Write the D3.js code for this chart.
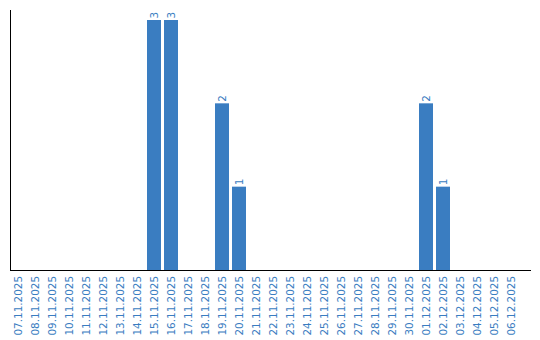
<!DOCTYPE html>
<html>
<head>
<meta charset="utf-8">
<script src="https://cdn.jsdelivr.net/npm/d3@7"></script>
<style>
    body { margin: 0; background: #fff; }
</style>
</head>
<body>
<div id="chart"></div>
<script>
// dates shown on the x axis
const dates = ["07.11.2025","08.11.2025","09.11.2025","10.11.2025","11.11.2025","12.11.2025",
    "13.11.2025","14.11.2025","15.11.2025","16.11.2025","17.11.2025","18.11.2025","19.11.2025",
    "20.11.2025","21.11.2025","22.11.2025","23.11.2025","24.11.2025","25.11.2025","26.11.2025",
    "27.11.2025","28.11.2025","29.11.2025","30.11.2025","01.12.2025","02.12.2025","03.12.2025",
    "04.12.2025","05.12.2025","06.12.2025"];
// counts per day
const counts = [0,0,0,0,0,0,0,0,3,3,0,0,2,1,0,0,0,0,0,0,0,0,0,0,2,1,0,0,0,0];

const data = dates.map((d, i) => ({date: d, value: counts[i]}));

const width = 540, height = 340;
const barColor = "#3a7dc1";
const textColor = "#3a7dc1";
const font = "DejaVu Sans";

const svg = d3.select("#chart").append("svg")
    .attr("width", width)
    .attr("height", height);

// x scale: step 17, bars 14 wide
const x = d3.scaleBand()
    .domain(dates)
    .range([11, 518])
    .paddingInner(3 / 17)
    .paddingOuter(0);

const y = d3.scaleLinear()
    .domain([0, 3])
    .range([270, 20]);

// bars
svg.selectAll(".bar")
    .data(data.filter(d => d.value > 0))
    .enter()
    .append("rect")
    .attr("class", "bar")
    .attr("x", d => x(d.date))
    .attr("y", d => y(d.value))
    .attr("width", x.bandwidth())
    .attr("height", d => y(0) - y(d.value))
    .attr("fill", barColor);

// value labels, rotated
svg.selectAll(".val")
    .data(data.filter(d => d.value > 0))
    .enter()
    .append("text")
    .attr("class", "val")
    .attr("transform", d => "translate(" + (x(d.date) + x.bandwidth() / 2 + 3.5) + "," + (y(d.value) - 1.5) + ") rotate(-90)")
    .attr("text-anchor", "start")
    .attr("font-family", font)
    .attr("font-size", "10.4px")
    .attr("fill", textColor)
    .text(d => d.value);

// x axis
const xAxis = d3.axisBottom(x).tickSize(0).tickPadding(0);
const gx = svg.append("g")
    .attr("transform", "translate(0,270)")
    .call(xAxis)
    .attr("font-family", font)
    .attr("font-size", 10.4);
gx.select(".domain").remove();
gx.selectAll("text")
    .attr("fill", textColor)
    .attr("text-anchor", "end")
    .attr("dy", null)
    .attr("y", 0)
    .attr("transform", "translate(3.5,6) rotate(-90)");

// axis lines
svg.append("line")
    .attr("x1", 10).attr("x2", 531)
    .attr("y1", 270.5).attr("y2", 270.5)
    .attr("stroke", "#000");
svg.append("line")
    .attr("x1", 10.5).attr("x2", 10.5)
    .attr("y1", 10).attr("y2", 271)
    .attr("stroke", "#000");
</script>
</body>
</html>
